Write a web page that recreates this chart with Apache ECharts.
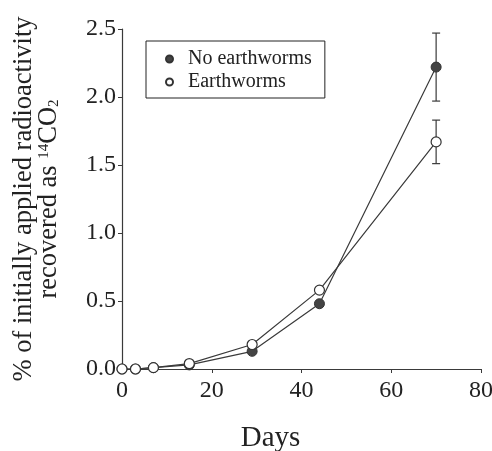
<!DOCTYPE html>
<html>
<head>
<meta charset="utf-8">
<script src="https://cdn.jsdelivr.net/npm/echarts@6/dist/echarts.min.js"></script>
<style>
  html, body { margin: 0; padding: 0; background: #fff; }
  #chart { width: 492px; height: 451px; }
</style>
</head>
<body>
<div id="chart"></div>
<script>
    // sampling days
    var days = [0, 3, 7, 15, 29, 44, 70];
    // % of applied radioactivity recovered as 14CO2
    var noWorms = [0.0, 0.0, 0.01, 0.03, 0.13, 0.48, 2.22];
    var worms = [0.0, 0.0, 0.01, 0.04, 0.18, 0.58, 1.67];
    // error bars (only the last point has visible ones)
    var noWormsErr = [0, 0, 0, 0, 0, 0, 0.25];
    var wormsErr = [0, 0, 0, 0, 0, 0, 0.16];

    var serif = '"Liberation Serif", "DejaVu Serif", serif';
    var ink = '#3a3a3a';

    function pairs(ys) {
        return days.map(function (d, i) { return [d, ys[i]]; });
    }
    function errPairs(ys, es) {
        var out = [];
        for (var i = 0; i < days.length; i++) {
            if (es[i] > 0) out.push([days[i], ys[i] - es[i], ys[i] + es[i]]);
        }
        return out;
    }

    function errorBar(params, api) {
        var lo = api.coord([api.value(0), api.value(1)]);
        var hi = api.coord([api.value(0), api.value(2)]);
        var w = 4;
        var st = { stroke: ink, lineWidth: 1.2 };
        return {
            type: 'group',
            children: [
                { type: 'line', shape: { x1: lo[0], y1: lo[1], x2: hi[0], y2: hi[1] }, style: st },
                { type: 'line', shape: { x1: lo[0] - w, y1: lo[1], x2: lo[0] + w, y2: lo[1] }, style: st },
                { type: 'line', shape: { x1: hi[0] - w, y1: hi[1], x2: hi[0] + w, y2: hi[1] }, style: st }
            ]
        };
    }

    var option = {
        backgroundColor: '#fff',
        animation: false,
        grid: { left: 122, right: 11, top: 29, bottom: 82, containLabel: false, outerBoundsMode: 'none' },
        legend: {
            left: 146,
            top: 41,
            orient: 'vertical',
            itemGap: 3,
            itemWidth: 7,
            itemHeight: 7,
            padding: [8, 13, 6, 19],
            borderColor: '#222',
            borderWidth: 1,
            textStyle: { fontFamily: serif, fontSize: 20, lineHeight: 20, color: '#222', padding: [0, 0, 0, 10] },
            data: [
                { name: 'No earthworms', icon: 'circle' },
                { name: 'Earthworms', icon: 'circle' }
            ]
        },
        xAxis: {
            type: 'value',
            min: 0,
            max: 80,
            interval: 20,
            name: 'Days',
            nameLocation: 'middle',
            nameGap: 55,
            nameTextStyle: { fontFamily: serif, fontSize: 29, color: '#222', padding: [0, 62, 0, 0] },
            axisLine: { lineStyle: { color: ink, width: 1.2 } },
            axisTick: { length: 4, lineStyle: { color: ink } },
            axisLabel: { fontFamily: serif, fontSize: 24, color: '#222', margin: 10 },
            splitLine: { show: false }
        },
        yAxis: {
            type: 'value',
            min: 0,
            max: 2.5,
            interval: 0.5,
            name: '{a|% of initially applied radioactivity}\n{a|recovered as }{sup|14}{a|CO}{sub|2}',
            nameLocation: 'middle',
            nameRotate: 90,
            nameGap: 60,
            nameTextStyle: {
                color: '#222',
                lineHeight: 25,
                rich: {
                    a: { fontFamily: serif, fontSize: 26.5, color: '#222', lineHeight: 25 },
                    sup: { fontFamily: serif, fontSize: 15, color: '#222', verticalAlign: 'top', lineHeight: 25, padding: [0, 0, 12, 0] },
                    sub: { fontFamily: serif, fontSize: 15, color: '#222', verticalAlign: 'bottom', lineHeight: 25, padding: [10, 0, 0, 0] }
                }
            },
            axisLine: { show: true, lineStyle: { color: ink, width: 1.2 } },
            axisTick: { show: true, length: 4, lineStyle: { color: ink } },
            axisLabel: {
                fontFamily: serif, fontSize: 24, color: '#222', margin: 6,
                formatter: function (v) { return v.toFixed(1); }
            },
            splitLine: { show: false }
        },
        series: [
            {
                type: 'custom',
                renderItem: errorBar,
                data: errPairs(noWorms, noWormsErr),
                z: 1
            },
            {
                type: 'custom',
                renderItem: errorBar,
                data: errPairs(worms, wormsErr),
                z: 1
            },
            {
                name: 'No earthworms',
                type: 'line',
                data: pairs(noWorms),
                symbol: 'circle',
                symbolSize: 10,
                color: '#444',
                lineStyle: { color: ink, width: 1.2 },
                itemStyle: { color: '#444', borderColor: '#333', borderWidth: 1 },
                z: 3
            },
            {
                name: 'Earthworms',
                type: 'line',
                data: pairs(worms),
                symbol: 'circle',
                symbolSize: 10,
                color: '#fff',
                lineStyle: { color: ink, width: 1.2 },
                itemStyle: { color: '#fff', borderColor: '#333', borderWidth: 1.2 },
                z: 4
            }
        ]
    };

    var myChart = echarts.init(document.getElementById('chart'));
    myChart.setOption(option);
</script>
</body>
</html>
